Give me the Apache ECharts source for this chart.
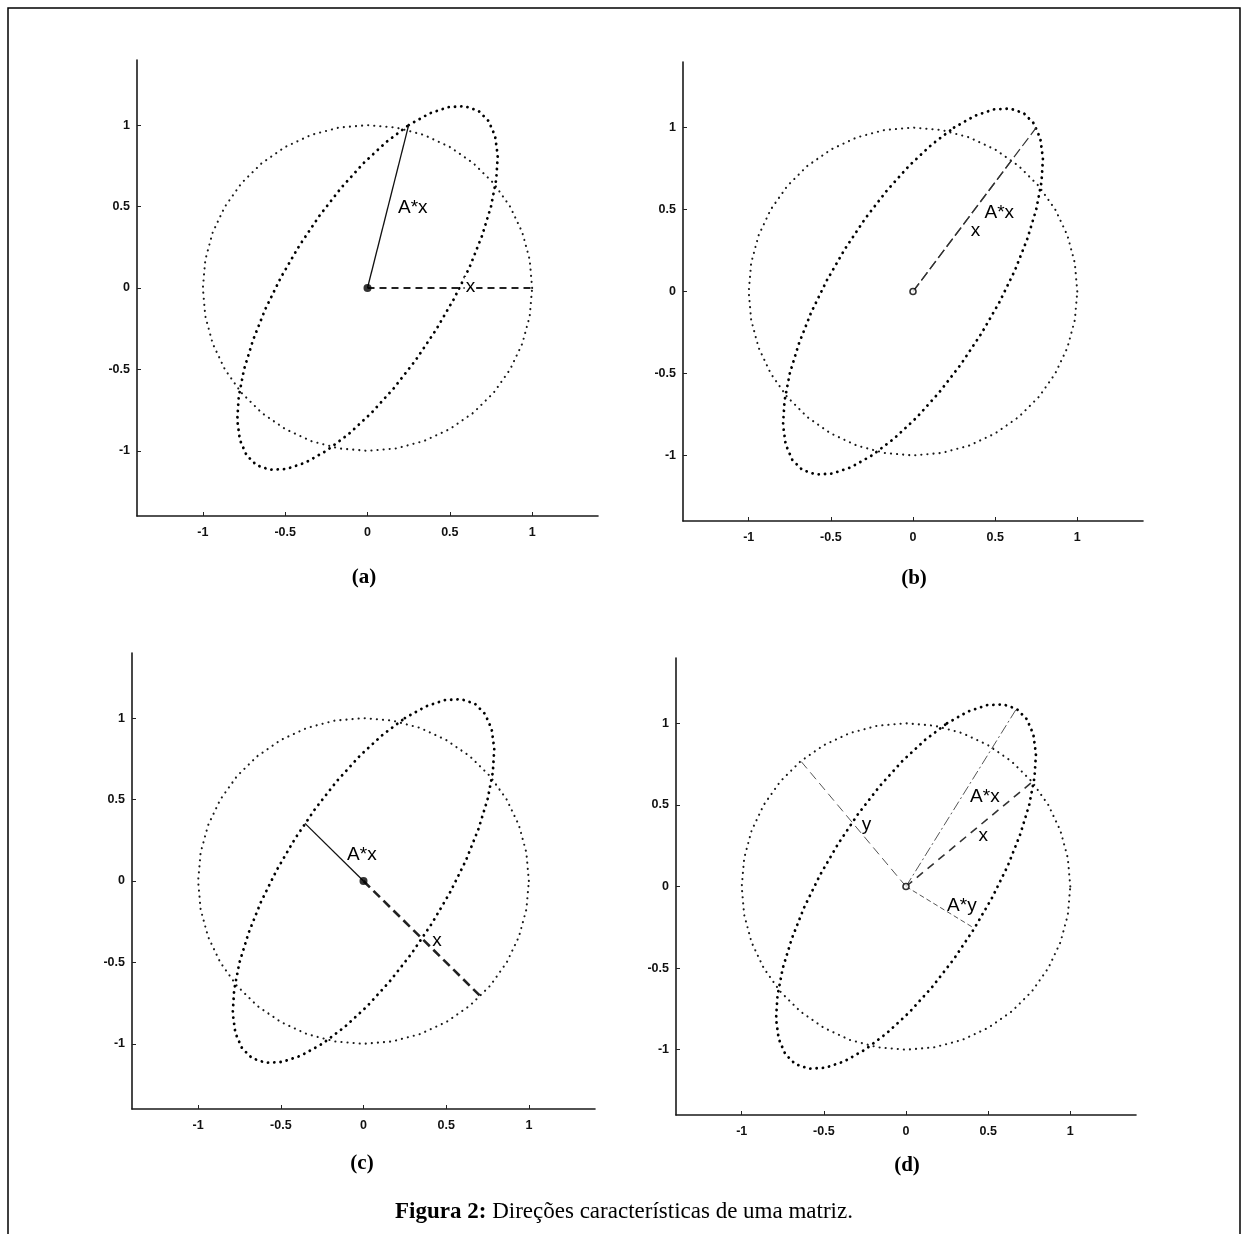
<!DOCTYPE html>
<html>
<head>
<meta charset="utf-8">
<script src="https://cdn.jsdelivr.net/npm/echarts@6/dist/echarts.min.js"></script>
<style>
html, body { margin: 0; padding: 0; background: #fff; }
#main { width: 1248px; height: 1234px; }
</style>
</head>
<body>
<div id="main"></div>
<script>
// tick labels on both axes
var ticks = [-1, -0.5, 0, 0.5, 1];
var panelNames = ['(a)', '(b)', '(c)', '(d)'];

// unit circle, read every 10 degrees
var circle = [
	[1, 0], [0.985, 0.174], [0.940, 0.342], [0.866, 0.5], [0.766, 0.643], [0.643, 0.766],
	[0.5, 0.866], [0.342, 0.940], [0.174, 0.985], [0, 1], [-0.174, 0.985], [-0.342, 0.940],
	[-0.5, 0.866], [-0.643, 0.766], [-0.766, 0.643], [-0.866, 0.5], [-0.940, 0.342], [-0.985, 0.174],
	[-1, 0], [-0.985, -0.174], [-0.940, -0.342], [-0.866, -0.5], [-0.766, -0.643], [-0.643, -0.766],
	[-0.5, -0.866], [-0.342, -0.940], [-0.174, -0.985], [0, -1], [0.174, -0.985], [0.342, -0.940],
	[0.5, -0.866], [0.643, -0.766], [0.766, -0.643], [0.866, -0.5], [0.940, -0.342], [0.985, -0.174],
	[1, 0]
];

// the ellipse A*x traced by the same points
var ellipse = [
	[0.25, 1], [0.377, 1.072], [0.492, 1.111], [0.592, 1.116], [0.674, 1.088], [0.735, 1.026],
	[0.775, 0.933], [0.791, 0.812], [0.782, 0.667], [0.75, 0.5], [0.695, 0.319], [0.620, 0.128],
	[0.525, -0.067], [0.414, -0.260], [0.291, -0.445], [0.159, -0.616], [0.022, -0.769], [-0.116, -0.898],
	[-0.25, -1], [-0.377, -1.072], [-0.492, -1.111], [-0.592, -1.116], [-0.674, -1.088], [-0.735, -1.026],
	[-0.775, -0.933], [-0.791, -0.812], [-0.782, -0.667], [-0.75, -0.5], [-0.695, -0.319], [-0.620, -0.128],
	[-0.525, 0.067], [-0.414, 0.260], [-0.291, 0.445], [-0.159, 0.616], [-0.022, 0.769], [0.116, 0.898],
	[0.25, 1]
];

// x and A*x in each panel
var vecX = [[1, 0], [0.6, 0.8], [0.707, -0.707], [0.768, 0.640]];
var vecAx = [[0.25, 1], [0.75, 1], [-0.354, 0.354], [0.672, 1.088]];
// panel (d) also shows y and A*y
var vecY = [-0.640, 0.768];
var vecAy = [0.416, -0.256];

// text next to the vectors
var noteText = [
	['A*x', 'x'],
	['A*x', 'x'],
	['A*x', 'x'],
	['A*x', 'x', 'y', 'A*y']
];
var notePos = [
	[[0.275, 0.49], [0.625, 0.01]],
	[[0.525, 0.48], [0.38, 0.37]],
	[[-0.01, 0.16], [0.445, -0.37]],
	[[0.48, 0.55], [0.47, 0.31], [-0.24, 0.38], [0.34, -0.12]]
];

var grids = [
	{ left: 137, top: 60, width: 461, height: 456 },
	{ left: 683, top: 62, width: 460, height: 459 },
	{ left: 132, top: 653, width: 463, height: 456 },
	{ left: 676, top: 658, width: 460, height: 457 }
];
var captionPos = [[364, 578], [914, 579], [362, 1164], [907, 1166]];

var axisCommon = {
	type: 'value',
	min: -1.4,
	max: 1.4,
	splitLine: { show: false },
	axisLine: { onZero: false, lineStyle: { color: '#1a1a1a', width: 1.6 } },
	axisTick: { inside: true, length: 4, customValues: ticks, lineStyle: { color: '#222' } },
	axisLabel: {
		customValues: ticks,
		fontSize: 12.5,
		fontWeight: 'bold',
		color: '#111',
		fontFamily: 'Liberation Sans'
	}
};

function seg(p) {
	return [[0, 0], p];
}

function vecLine(i, p, width, dash, color) {
	return {
		type: 'line',
		xAxisIndex: i,
		yAxisIndex: i,
		data: seg(p),
		symbol: 'none',
		silent: true,
		lineStyle: { color: color, width: width, type: dash }
	};
}

var xAxes = [], yAxes = [], series = [], graphics = [];

for (var i = 0; i < 4; i++) {
	xAxes.push(echarts.util.merge({ gridIndex: i, axisLabel: { margin: 10 } }, axisCommon, false));
	yAxes.push(echarts.util.merge({ gridIndex: i, axisLabel: { margin: 7 } }, axisCommon, false));

	//unit circle
	series.push({
		type: 'line', xAxisIndex: i, yAxisIndex: i, data: circle, symbol: 'none', silent: true,
		lineStyle: { color: '#1a1a1a', width: 2.1, type: [0.1, 6], cap: 'round' }
	});
	//ellipse
	series.push({
		type: 'line', xAxisIndex: i, yAxisIndex: i, data: ellipse, symbol: 'none', silent: true,
		lineStyle: { color: '#000', width: 2.8, type: [0.1, 6.2], cap: 'round' }
	});

	graphics.push({
		type: 'text', x: captionPos[i][0], y: captionPos[i][1],
		style: {
			text: panelNames[i], textAlign: 'center', textVerticalAlign: 'middle',
			font: 'bold 21px "Liberation Serif"', fill: '#000'
		}
	});
}

// vectors
series.push(vecLine(0, vecAx[0], 1.3, 'solid', '#111'));
series.push(vecLine(0, vecX[0], 2, [7, 5], '#222'));
series.push(vecLine(1, vecAx[1], 1.2, [10, 4], '#333'));
series.push(vecLine(1, vecX[1], 1.4, [10, 4], '#333'));
series.push(vecLine(2, vecAx[2], 1.3, 'solid', '#111'));
series.push(vecLine(2, vecX[2], 2.6, [9, 5], '#222'));
series.push(vecLine(3, vecY, 1, [9, 5], '#555'));
series.push(vecLine(3, vecAx[3], 1, [10, 3, 2, 3], '#555'));
series.push(vecLine(3, vecX[3], 1.6, [8, 6], '#333'));
series.push(vecLine(3, vecAy, 1, [5, 3], '#555'));

// origin markers and vector names
for (var k = 0; k < 4; k++) {
	var filled = (k === 0 || k === 2);
	series.push({
		type: 'scatter', xAxisIndex: k, yAxisIndex: k, data: [[0, 0]], silent: true,
		symbolSize: filled ? 8 : 6,
		itemStyle: filled ? { color: '#000' } : { color: '#fff', borderColor: '#000', borderWidth: 1.6 },
		z: 5
	});
	series.push({
		type: 'scatter', xAxisIndex: k, yAxisIndex: k, silent: true, symbolSize: 0,
		itemStyle: { color: 'rgba(0,0,0,0)' },
		z: 6,
		data: notePos[k].map(function(p, j) {
			return { value: p, label: { formatter: noteText[k][j] } };
		}),
		label: {
			show: true, position: 'inside', fontSize: 19, color: '#000',
			textBorderWidth: 0, opacity: 1,
			fontFamily: 'Liberation Sans', backgroundColor: k === 0 ? '#fff' : 'transparent', padding: [0, 1]
		}
	});
}

// figure caption and page frame
graphics.push({
	type: 'text', x: 624, y: 1212,
	style: {
		text: '{b|Figura 2:} Direções características de uma matriz.',
		textAlign: 'center', textVerticalAlign: 'middle',
		fontSize: 23, fontFamily: 'Liberation Serif', fill: '#000',
		rich: { b: { fontWeight: 'bold', fontSize: 23, fontFamily: 'Liberation Serif' } }
	}
});
graphics.push({
	type: 'rect', shape: { x: 8, y: 8, width: 1232, height: 1240 },
	style: { fill: 'none', stroke: '#000', lineWidth: 1.5 }, silent: true
});

var chart = echarts.init(document.getElementById('main'));
chart.setOption({
	animation: false,
	backgroundColor: '#fff',
	grid: grids,
	xAxis: xAxes,
	yAxis: yAxes,
	series: series,
	graphic: graphics
});
</script>
</body>
</html>
